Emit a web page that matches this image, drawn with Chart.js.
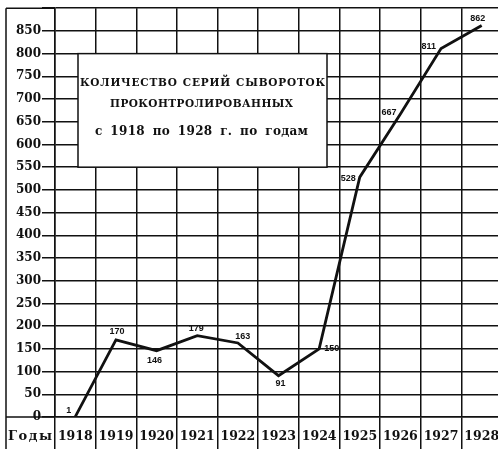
<!DOCTYPE html>
<html>
<head>
<meta charset="utf-8">
<script src="https://cdn.jsdelivr.net/npm/chart.js@4"></script>
<style>
  html, body { margin: 0; padding: 0; background: #fff; overflow: hidden; }
  #wrap { width: 498px; height: 449px; overflow: hidden; }
  canvas { display: block; }
</style>
</head>
<body>
<div id="wrap"><canvas id="chart" width="502" height="449"></canvas></div>
<script>
// Number of serum series checked per year
const years = ['1918', '1919', '1920', '1921', '1922', '1923', '1924', '1925', '1926', '1927', '1928'];
const seriesCounts = [1, 170, 146, 179, 163, 91, 150, 528, 667, 811, 862];

// Value axis
const yMin = 0;
const yMax = 900;
const yStep = 50;

// Texts
const titleLines = ['КОЛИЧЕСТВО СЕРИЙ СЫВОРОТОК', 'ПРОКОНТРОЛИРОВАННЫХ', 'с 1918 по 1928 г. по годам'];
const axisCaption = 'Годы';

const INK = '#111';
const SERIF = '"DejaVu Serif", "Liberation Serif", serif';

// where each value label sits relative to its point: [dx, dy, align]
const labelPlacement = [
  [-4, -6, 'right'],
  [1, -8, 'center'],
  [-2, 10, 'center'],
  [-1, -7, 'center'],
  [5, -6, 'center'],
  [2, 8, 'center'],
  [5, 0, 'left'],
  [-4, 1, 'right'],
  [-4, -2, 'right'],
  [-5, -2, 'right'],
  [-4, -7, 'center']
];

// Writes a line centred on cx so that it fills `width`: letters get `ls` px
// of extra tracking, the rest of the room goes into the gaps between words.
function spreadText(ctx, text, cx, cy, width, ls) {
  ctx.textBaseline = 'middle';
  ctx.textAlign = 'left';
  const hasLS = 'letterSpacing' in ctx;
  const words = text.split(' ');
  if (words.length === 1) {
    const n = Array.from(text).length;
    let s = 0;
    if (hasLS) {
      ctx.letterSpacing = '0px';
      const w = ctx.measureText(text).width;
      s = n > 1 ? (width - w) / (n - 1) : 0;
      ctx.letterSpacing = s + 'px';
    }
    ctx.fillText(text, cx - width / 2, cy);
    if (hasLS) ctx.letterSpacing = '0px';
    return;
  }
  if (hasLS) ctx.letterSpacing = ls + 'px';
  const widths = words.map(w => ctx.measureText(w).width - (hasLS ? ls : 0));
  const sum = widths.reduce((p, q) => p + q, 0);
  const gap = (width - sum) / (words.length - 1);
  let x = cx - width / 2;
  words.forEach((w, i) => {
    ctx.fillText(w, x, cy);
    x += widths[i] + gap;
  });
  if (hasLS) ctx.letterSpacing = '0px';
}

const framePlugin = {
  id: 'frame',
  afterDraw(chart) {
    const { ctx, chartArea: a, scales: { y } } = chart;
    ctx.save();
    ctx.strokeStyle = INK;
    ctx.lineWidth = 1.5;
    ctx.beginPath();
    ctx.moveTo(6, a.top); ctx.lineTo(a.left, a.top);
    ctx.moveTo(6, a.top); ctx.lineTo(6, chart.height);
    ctx.moveTo(6, a.bottom); ctx.lineTo(a.left, a.bottom);
    ctx.stroke();

    // caption under the value axis
    ctx.fillStyle = INK;
    ctx.font = 'bold 13px ' + SERIF;
    spreadText(ctx, axisCaption, 30, a.bottom + 20, 44, 0);

    // title panel
    const bx = a.left + 23;
    const bw = 249;
    const top = y.getPixelForValue(800);
    const bottom = y.getPixelForValue(550);
    ctx.fillStyle = '#fff';
    ctx.fillRect(bx, top, bw, bottom - top);
    ctx.strokeRect(bx, top, bw, bottom - top);
    ctx.fillStyle = INK;
    const cx = bx + bw / 2;
    ctx.font = 'bold 10.5px ' + SERIF;
    spreadText(ctx, titleLines[0], cx, top + 30, 245, 0.8);
    spreadText(ctx, titleLines[1], cx - 1, top + 51, 183, 0);
    ctx.font = 'bold 12px ' + SERIF;
    spreadText(ctx, titleLines[2], cx - 1, top + 78, 213, 0.3);
    ctx.restore();
  }
};

const valueLabels = {
  id: 'valueLabels',
  afterDatasetsDraw(chart) {
    const { ctx } = chart;
    const meta = chart.getDatasetMeta(0);
    ctx.save();
    ctx.fillStyle = INK;
    ctx.font = 'bold 9px "Liberation Sans", Arial, sans-serif';
    ctx.textBaseline = 'middle';
    meta.data.forEach((pt, i) => {
      const [dx, dy, align] = labelPlacement[i];
      ctx.textAlign = align;
      ctx.fillText(String(seriesCounts[i]), pt.x + dx, pt.y + dy);
    });
    ctx.restore();
  }
};

new Chart(document.getElementById('chart'), {
  type: 'line',
  data: {
    labels: years,
    datasets: [{
      data: seriesCounts,
      borderColor: INK,
      borderWidth: 2.8,
      pointRadius: 0,
      tension: 0,
      fill: false
    }]
  },
  options: {
    responsive: false,
    animation: false,
    devicePixelRatio: 1,
    layout: { padding: { top: 7, left: 0, right: 0, bottom: 0 } },
    plugins: { legend: { display: false }, tooltip: { enabled: false }, title: { display: false } },
    scales: {
      x: {
        offset: true,
        grid: { offset: true, color: INK, lineWidth: 1.5, tickColor: INK, tickLength: 32, drawTicks: true },
        border: { color: INK, width: 1.5 },
        ticks: {
          color: INK,
          font: { family: SERIF, size: 12.5, weight: 'bold' },
          padding: -20,
          maxRotation: 0,
          autoSkip: false
        },
        afterFit(scale) { scale.height = 32; }
      },
      y: {
        min: yMin,
        max: yMax,
        grid: { color: INK, lineWidth: 1.5, tickColor: INK, tickLength: 13 },
        border: { color: INK, width: 1.5 },
        ticks: {
          stepSize: yStep,
          color: INK,
          padding: 1,
          font: { family: SERIF, size: 12, weight: 'bold' },
          callback: (v) => (v === yMax ? '' : String(v))
        },
        afterFit(scale) { scale.width = 55; }
      }
    }
  },
  plugins: [framePlugin, valueLabels]
});
</script>
</body>
</html>
